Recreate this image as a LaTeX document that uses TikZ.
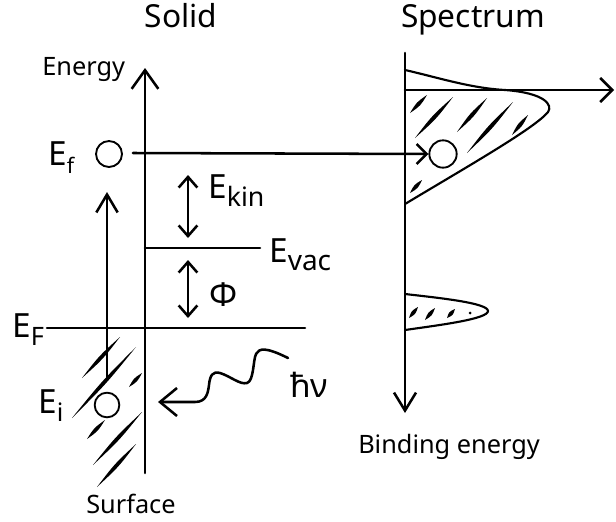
\documentclass[tikz,border=0pt]{standalone}
\usepackage{fontspec}
\setmainfont{Noto Sans}
\usetikzlibrary{arrows.meta,calc}
\newcommand\mysub[2]{\raisebox{-6pt}{\fontsize{#1}{#1}\selectfont #2}}
\newcommand\brush[3]{\fill #1 .. controls ($#1!0.5!#2!#3!90:#2$) .. #2 .. controls ($#1!0.5!#2!#3!-90:#2$) .. #1 -- cycle;}
\tikzset{
  ln/.style={line width=1.9pt},
  lbl/.style={font=\fontsize{25pt}{27pt}\selectfont, inner sep=0pt, anchor=base west},
  ttl/.style={font=\fontsize{23.8pt}{25pt}\selectfont, inner sep=0pt, anchor=base},
  axl/.style={font=\fontsize{19pt}{20pt}\selectfont, inner sep=0pt, anchor=base west},
  ring/.style={circle, draw, line width=1.4pt, inner sep=0pt},
  bigarrow/.style={-{Straight Barb[length=14pt,width=20pt]}},
  midarrow/.style={-{Straight Barb[length=13.5pt,width=16pt]}},
  smallarrow/.style={-{Straight Barb[length=7.5pt,width=15pt]}},
  dblarrow/.style={{Straight Barb[length=8pt,width=14pt]}-{Straight Barb[length=8pt,width=14pt]}},
}
\begin{document}
\begin{tikzpicture}[x=0.75pt,y=-0.75pt, line cap=round, line join=round]
\useasboundingbox (0,0) rectangle (616,521);
% titles
\node[ttl] (tsolid) at (181,27) {Solid};
\node[ttl] (tspec) at (473,27) {Spectrum};
\node[axl] (tenergy) at (42,75) {Energy};
\node[axl] (tsurf) at (86,513) {Surface};
\node[axl] (tbind) at (358,453) {Binding energy};
% labels
\node[lbl] (lef) at (48,165) {E\mysub{16pt}{f}};
\node[lbl] (lekin) at (208,198) {E\mysub{20pt}{kin}};
\node[lbl] (levac) at (269,262) {E\mysub{21pt}{vac}};
\node[lbl] (lphi) at (209,306) {Φ};
\node[lbl] (leF) at (12,337) {E\mysub{19pt}{F}};
\node[lbl] (lei) at (38,413) {E\mysub{19pt}{i}};
\node[lbl] (lhv) at (290,397) {ħν};
% circles
\node[ring, minimum size=19.5pt] (ef) at (109,154) {};
\node[ring, minimum size=18.5pt] (ei) at (107,405) {};
\node[ring, minimum size=20.5pt] (sc) at (443,154) {};
% coordinates
\coordinate (sbot) at (145,473);
\coordinate (stop) at (145,68);
\coordinate (efs) at (133,153);
\coordinate (exb) at (107,377);
\coordinate (ext) at (107,192);
\coordinate (k1) at (188,175);
\coordinate (k2) at (188,238);
\coordinate (v1) at (145,248);
\coordinate (v2) at (260,248);
\coordinate (p1) at (188,260);
\coordinate (p2) at (188,318);
\coordinate (F1) at (47,328);
\coordinate (F2) at (305,328);
\coordinate (xtop) at (405,53);
\coordinate (xbot) at (405,413);
\coordinate (h1) at (405,90);
\coordinate (h2) at (614,90);
\coordinate (ph0) at (288,358);
\coordinate (ph1) at (158,402);
% solid
\draw[ln, bigarrow] (sbot) -- (stop);
\draw[ln, smallarrow] (efs) -- (sc.west);
\draw[ln, midarrow] (exb) -- (ext);
\draw[ln, dblarrow] (k1) -- (k2);
\draw[ln] (v1) -- (v2);
\draw[ln, dblarrow] (p1) -- (p2);
\draw[ln] (F1) -- (F2);
\draw[ln, -{Straight Barb[length=12.75pt,width=21pt]}] (ph0) .. controls (266,347) and (259,348) .. (256,354)
  .. controls (253,360) and (254,381) .. (247,383)
  .. controls (240,385) and (230,376) .. (220,373)
  .. controls (213,371) and (210,375) .. (209,385)
  .. controls (208,392) and (207,402) .. (195,402) -- (ph1);
% solid hatching
\brush{(82,378)}{(120,337)}{1.9pt}
\brush{(72,418)}{(136,347)}{1.9pt}
\brush{(129,387)}{(142,373)}{1.9pt}
\brush{(87,439)}{(105,420)}{1.9pt}
\brush{(93,465)}{(142,412)}{1.9pt}
\brush{(97,487)}{(136,444)}{1.9pt}
% spectrum
\draw[ln, -{Straight Barb[length=13.5pt,width=16.5pt]}] (xtop) -- (xbot);
\draw[ln, -{Straight Barb[length=9pt,width=18pt]}] (h1) -- (h2);
\draw[line width=1.6pt] (405,70) .. controls (440,78) and (470,88) .. (505,90)
  .. controls (545,93) and (553,105) .. (548,112)
  .. controls (535,128) and (470,165) .. (405,204);
\draw[line width=1.6pt] (405,294) .. controls (440,298) and (488,303) .. (488,311)
  .. controls (488,319) and (440,325) .. (405,330);
\brush{(410,113)}{(427,95)}{2pt}
\brush{(415,138)}{(453,97)}{2pt}
\brush{(457,132)}{(487,98)}{2pt}
\brush{(467,153)}{(513,102)}{2pt}
\brush{(512,135)}{(528,115)}{2pt}
\brush{(410,193)}{(422,180)}{2pt}
\brush{(409,318)}{(418,307)}{2pt}
\brush{(425,320)}{(435,308)}{2pt}
\brush{(447,318)}{(455,309)}{2pt}
\fill (470,313) circle[radius=1.5];
\end{tikzpicture}
\end{document}
